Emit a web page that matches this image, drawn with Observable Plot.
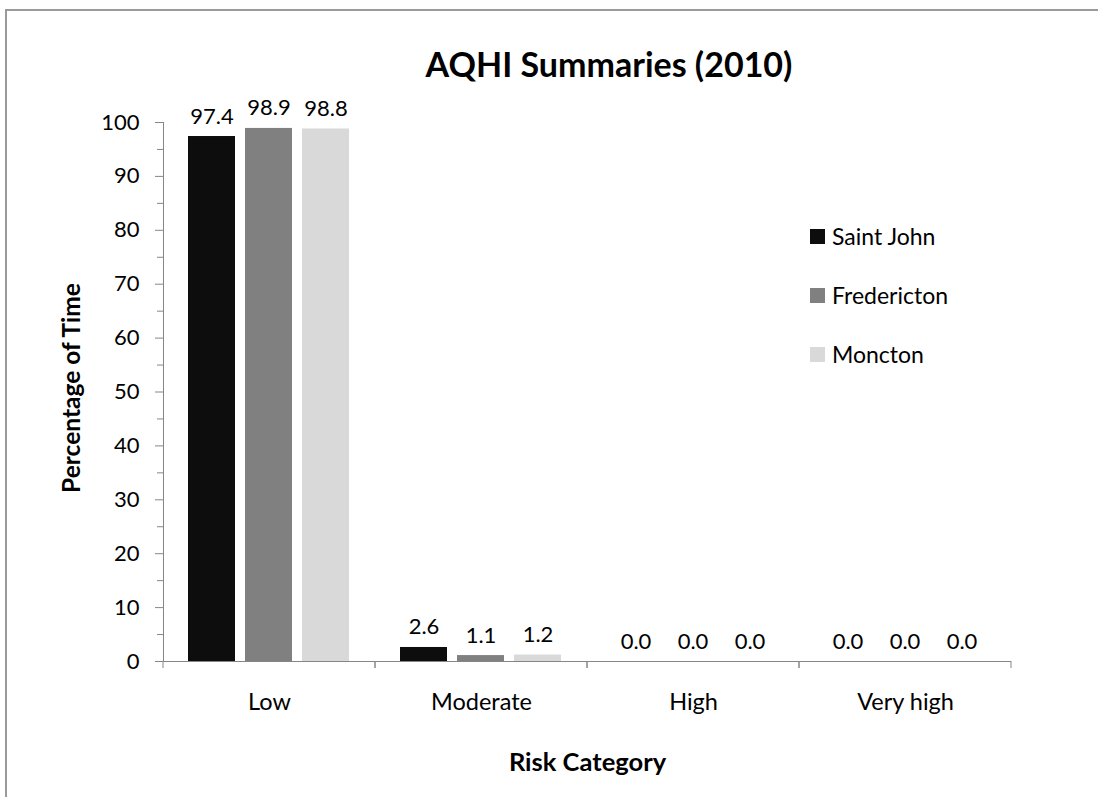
<!DOCTYPE html>
<html>
<head>
<meta charset="utf-8">
<script src="https://cdn.jsdelivr.net/npm/d3@7"></script>
<script src="https://cdn.jsdelivr.net/npm/@observablehq/plot@0.6"></script>
<style>
  html, body { margin: 0; padding: 0; background: #fff; overflow: hidden; }
  #wrap { position: relative; width: 1098px; height: 797px; overflow: hidden; font-family: Lato, sans-serif; color: #000; }
  #border { position: absolute; left: 5px; top: 9px; right: 0; bottom: 0; border-top: 2px solid #9a9a9a; border-left: 2px solid #9a9a9a; }
  #chart { position: absolute; left: 0; top: 0; }
  #title { position: absolute; left: 609px; top: 47px; transform: translateX(-50%); font-size: 34px; line-height: 1; font-weight: bold; white-space: nowrap; }
  #legend { position: absolute; left: 810px; top: 229px; }
  .item { position: absolute; left: 0; display: flex; align-items: center; height: 15px; white-space: nowrap; font-size: 23px; line-height: 15px; }
  .swatch { width: 15px; height: 15px; margin-right: 7px; flex: none; }
</style>
</head>
<body>
<div id="wrap">
  <div id="border"></div>
  <div id="chart"></div>
  <div id="title">AQHI Summaries (2010)</div>
  <div id="legend"></div>
</div>
<script>
const categories = ["Low", "Moderate", "High", "Very high"];
const cities = ["Saint John", "Fredericton", "Moncton"];
const saintJohn = [97.4, 2.6, 0.0, 0.0];
const fredericton = [98.9, 1.1, 0.0, 0.0];
const moncton = [98.8, 1.2, 0.0, 0.0];
const cityColors = ["#0d0d0d", "#808080", "#d9d9d9"];
const yTicks = [0, 10, 20, 30, 40, 50, 60, 70, 80, 90, 100];
const yMinorTicks = [5, 15, 25, 35, 45, 55, 65, 75, 85, 95];
const yTitle = "Percentage of Time";
const xTitle = "Risk Category";

const series = [saintJohn, fredericton, moncton];
const rows = categories.flatMap((category, i) =>
  cities.map((city, j) => ({category, city, value: series[j][i]}))
);

const axisColor = "#868686";

function boundaryTicks(index, scales, values, dimensions) {
  const {x, y} = scales;
  const [x0, x1] = x.range();
  const y0 = y(0);
  const g = d3.create("svg:g").attr("stroke", axisColor).attr("stroke-width", 1);
  for (const xx of [x0, x1]) {
    g.append("line").attr("x1", xx).attr("x2", xx).attr("y1", y0).attr("y2", y0 + 7);
  }
  return g.node();
}

const plot = Plot.plot({
  width: 1098,
  height: 797,
  marginLeft: 161,
  marginRight: 86,
  marginTop: 122,
  marginBottom: 136,
  style: {fontFamily: "Lato, sans-serif", fontSize: "22px", background: "transparent", color: "#000"},
  fx: {domain: categories, paddingInner: 0, paddingOuter: 0, label: null, axis: null},
  x: {domain: cities, paddingInner: 0.1724, paddingOuter: 0.422, axis: null},
  y: {domain: [0, 100], axis: null},
  color: {domain: cities, range: cityColors},
  marks: [
    Plot.barY(rows, {fx: "category", x: "city", y: "value", fill: "city"}),
    Plot.ruleY([0], {stroke: axisColor}),
    boundaryTicks,
    Plot.frame({anchor: "left", facetAnchor: "left", stroke: axisColor}),
    Plot.axisY({ticks: yTicks, facetAnchor: "left", tickSize: 8, tickPadding: 16, stroke: axisColor, fill: "#000", label: null, fontSize: 22}),
    Plot.axisY({ticks: yMinorTicks, facetAnchor: "left", tickSize: 6, text: null, stroke: axisColor, label: null}),
    Plot.axisFx({anchor: "bottom", tickSize: 0, tickPadding: 32, label: null, fontSize: 23.5, fill: "#000"}),
    Plot.text(rows, {fx: "category", x: "city", y: "value", text: d => d.value.toFixed(1), lineAnchor: "bottom", dy: -13, fontSize: 22, fill: "#000"}),
    Plot.text([yTitle], {frameAnchor: "left", facet: "super", rotate: -90, textAnchor: "middle", lineAnchor: "top", dx: -101, dy: -4, fontWeight: "bold", fontSize: 24.5, fill: "#000"}),
    Plot.text([xTitle], {frameAnchor: "bottom", facet: "super", textAnchor: "middle", lineAnchor: "top", dy: 91, fontWeight: "bold", fontSize: 25.5, fill: "#000"})
  ]
});
document.getElementById("chart").appendChild(plot);

const legend = document.getElementById("legend");
cities.forEach((city, i) => {
  const item = document.createElement("div");
  item.className = "item";
  item.style.top = (i * 59) + "px";
  const sw = document.createElement("span");
  sw.className = "swatch";
  sw.style.background = cityColors[i];
  const label = document.createElement("span");
  label.textContent = city;
  item.appendChild(sw);
  item.appendChild(label);
  legend.appendChild(item);
});
</script>
</body>
</html>
